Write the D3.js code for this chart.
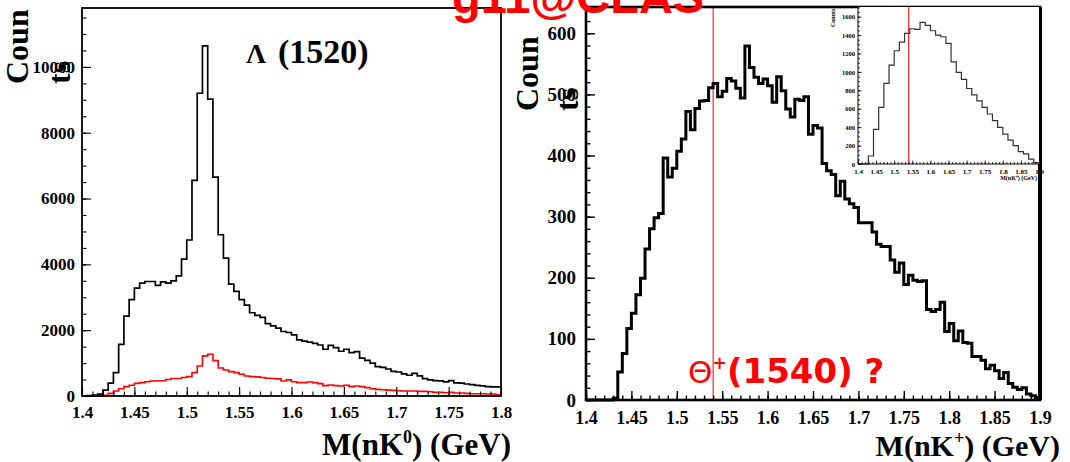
<!DOCTYPE html>
<html>
<head>
<meta charset="utf-8">
<script src="https://cdn.jsdelivr.net/npm/d3@7/dist/d3.min.js"></script>
<style>
  html, body { margin: 0; padding: 0; background: #fff; }
  svg { display: block; }
  .serif { font-family: "Liberation Serif", "Times New Roman", serif; font-weight: bold; }
</style>
</head>
<body>
<svg id="chart" width="1070" height="462"></svg>
<script>
// ---------------- DATA ----------------
// Left panel: M(nK0), 80 bins of 5 MeV from 1.40 to 1.80 GeV
const leftBinStart = 1.40;
const leftBinWidth = 0.005;
const lambdaAll = [0, 10, 30, 60, 180, 390, 710, 1570, 2430, 2930,
  3280, 3430, 3480, 3480, 3360, 3470, 3430, 3500, 3650, 4160,
  4740, 6550, 9200, 10640, 9020, 6650, 4900, 4190, 3400, 3180,
  2930, 2760, 2530, 2450, 2390, 2200, 2130, 2060, 1960, 1930,
  1860, 1705, 1665, 1635, 1600, 1550, 1420, 1540, 1470, 1360,
  1420, 1320, 1350, 1150, 1080, 1000, 890, 870, 820, 750,
  730, 670, 630, 690, 610, 530, 490, 470, 460, 430,
  470, 400, 390, 365, 345, 325, 305, 285, 275, 275];
const lambdaRed = [0, 0, 0, 0, 20, 80, 150, 220, 285, 325,
  385, 405, 435, 455, 465, 465, 500, 530, 530, 560,
  590, 710, 910, 1220, 1270, 1075, 850, 790, 740, 710,
  660, 610, 590, 580, 560, 540, 530, 520, 455, 490,
  435, 405, 405, 425, 405, 375, 315, 335, 315, 305,
  325, 285, 305, 285, 255, 220, 200, 190, 180, 170,
  160, 150, 150, 150, 140, 140, 130, 110, 110, 100,
  110, 90, 90, 80, 70, 70, 70, 60, 60, 40];
const leftXTicks = ["1.4", "1.45", "1.5", "1.55", "1.6", "1.65", "1.7", "1.75", "1.8"];
const leftYTicks = [0, 2000, 4000, 6000, 8000, 10000];

// Right panel: M(nK+), 100 bins of 5 MeV from 1.40 to 1.90 GeV
const rightBinStart = 1.40;
const rightBinWidth = 0.005;
const thetaCounts = [0, 0, 0, 0, 0, 0, 3, 46, 76, 117,
  142, 172, 199, 247, 280, 298, 305, 396, 365, 379,
  407, 427, 472, 442, 477, 489, 490, 511, 518, 496,
  505, 526, 522, 510, 494, 579, 544, 528, 518, 525,
  514, 487, 529, 506, 476, 463, 492, 490, 496, 435,
  449, 445, 387, 375, 369, 334, 358, 329, 321, 315,
  290, 290, 290, 275, 255, 251, 251, 229, 209, 224,
  189, 204, 196, 194, 195, 148, 145, 148, 160, 112,
  125, 97, 113, 94, 93, 71, 71, 65, 51, 57,
  48, 35, 45, 27, 21, 17, 20, 10, 7, 4];
const rightXTicks = ["1.4", "1.45", "1.5", "1.55", "1.6", "1.65", "1.7", "1.75", "1.8", "1.85", "1.9"];
const rightYTicks = [0, 100, 200, 300, 400, 500, 600];
const thetaMass = 1.54;

// Inset: 35 bins from 1.40 to 1.90 GeV
const insetBinStart = 1.40;
const insetBinCount = 35;
const insetCounts = [0, 0, 87, 376, 615, 875, 1074, 1230, 1324, 1418,
  1469, 1462, 1538, 1505, 1447, 1400, 1382, 1309, 1110, 995,
  920, 820, 750, 685, 615, 543, 470, 398, 325, 260,
  199, 134, 109, 54, 14];
const insetXTicks = ["1.4", "1.45", "1.5", "1.55", "1.6", "1.65", "1.7", "1.75", "1.8", "1.85", "1.9"];
const insetYTicks = [0, 200, 400, 600, 800, 1000, 1200, 1400, 1600];

// ---------------- DRAW ----------------
const svg = d3.select("#chart");
svg.append("rect").attr("width", 1070).attr("height", 462).attr("fill", "#fff");

function stepPoints(start, width, values) {
  const pts = [[start, 0]];
  values.forEach((v, i) => pts.push([start + i * width, v]));
  pts.push([start + values.length * width, values[values.length - 1]]);
  return pts;
}

function drawAxes(g, x, y, opt) {
  const [x0, x1] = x.range();
  const [y0, y1] = y.range();
  g.append("g").attr("transform", `translate(0,${y0})`)
    .call(d3.axisBottom(x).tickValues(opt.xMinor).tickSize(-opt.minorLen).tickFormat(""))
    .call(a => a.select(".domain").remove())
    .call(a => a.selectAll("line").attr("stroke-width", opt.tickW));
  g.append("g").attr("transform", `translate(0,${y0})`)
    .call(d3.axisBottom(x).tickValues(opt.xMajor.map(Number)).tickSize(-opt.majorLen)
      .tickPadding(opt.xPad).tickFormat((d, i) => opt.xMajor[i]))
    .call(a => a.select(".domain").remove())
    .call(a => a.selectAll("line").attr("stroke-width", opt.tickW))
    .call(a => a.selectAll("text").attr("font-size", opt.fontX).attr("fill", "#000"));
  g.append("g").attr("transform", `translate(${x0},0)`)
    .call(d3.axisLeft(y).tickValues(opt.yMinor).tickSize(-opt.minorLen).tickFormat(""))
    .call(a => a.select(".domain").remove())
    .call(a => a.selectAll("line").attr("stroke-width", opt.tickW));
  g.append("g").attr("transform", `translate(${x0},0)`)
    .call(d3.axisLeft(y).tickValues(opt.yMajor).tickSize(-opt.majorLen).tickPadding(opt.yPad)
      .tickFormat(d => String(d)))
    .call(a => a.select(".domain").remove())
    .call(a => a.selectAll("line").attr("stroke-width", opt.tickW))
    .call(a => a.selectAll("text").attr("font-size", opt.fontY).attr("fill", "#000"));
  g.selectAll(".tick text").attr("font-family", null)
    .style("font-family", '"Liberation Serif", serif').style("font-weight", "bold");
}

// ---- Left panel ----
const xL = d3.scaleLinear().domain([1.4, 1.8]).range([82, 501]);
const yL = d3.scaleLinear().domain([0, 11790]).range([396, 8]);
const gL = svg.append("g");
const lineL = d3.line().x(d => xL(d[0])).y(d => yL(d[1])).curve(d3.curveStepAfter);
gL.append("path").attr("d", lineL(stepPoints(leftBinStart, leftBinWidth, lambdaRed)))
  .attr("fill", "none").attr("stroke", "#ff0000").attr("stroke-width", 1.6);
gL.append("path").attr("d", lineL(stepPoints(leftBinStart, leftBinWidth, lambdaAll)))
  .attr("fill", "none").attr("stroke", "#000").attr("stroke-width", 1.7);
drawAxes(gL, xL, yL, {
  xMinor: d3.range(0, 41).map(i => 1.4 + i * 0.01),
  xMajor: leftXTicks,
  yMinor: d3.range(0, 24).map(i => i * 500),
  yMajor: leftYTicks,
  minorLen: 4.5, majorLen: 9, tickW: 1.1,
  xPad: 10, yPad: 7, fontX: 17, fontY: 17
});
gL.append("rect").attr("x", 82).attr("y", 8).attr("width", 419).attr("height", 388)
  .attr("fill", "none").attr("stroke", "#000").attr("stroke-width", 1.8);

gL.append("text").attr("class", "serif").attr("font-size", 32)
  .attr("transform", "translate(28,84) rotate(-90)").text("Coun");
gL.append("text").attr("class", "serif").attr("font-size", 32)
  .attr("transform", "translate(70,84) rotate(-90)").text("ts");
const tL = gL.append("text").attr("class", "serif").attr("font-size", 31)
  .attr("x", 511).attr("y", 455).attr("text-anchor", "end");
tL.append("tspan").text("M(nK");
tL.append("tspan").attr("font-size", 18).attr("dy", -12).text("0");
tL.append("tspan").attr("dy", 12).text(") (GeV)");
const lam = gL.append("text").attr("class", "serif").attr("y", 63);
lam.append("tspan").attr("x", 246).attr("font-size", 28).text("Λ");
lam.append("tspan").attr("x", 278).attr("font-size", 34).text("(1520)");

// ---- Right panel ----
const xR = d3.scaleLinear().domain([1.4, 1.9]).range([586, 1040]);
const yR = d3.scaleLinear().domain([0, 643]).range([400, 7]);
const gR = svg.append("g");
const lineR = d3.line().x(d => xR(d[0])).y(d => yR(d[1])).curve(d3.curveStepAfter);
gR.append("line").attr("x1", xR(thetaMass)).attr("x2", xR(thetaMass))
  .attr("y1", yR(0)).attr("y2", yR(643)).attr("stroke", "#ff0000").attr("stroke-width", 1);
gR.append("path").attr("d", lineR(stepPoints(rightBinStart, rightBinWidth, thetaCounts)))
  .attr("fill", "none").attr("stroke", "#000").attr("stroke-width", 3);
drawAxes(gR, xR, yR, {
  xMinor: d3.range(0, 51).map(i => 1.4 + i * 0.01),
  xMajor: rightXTicks,
  yMinor: d3.range(0, 33).map(i => i * 20),
  yMajor: rightYTicks,
  minorLen: 4.5, majorLen: 9, tickW: 1.4,
  xPad: 11, yPad: 10, fontX: 18, fontY: 19
});

// Inset
const xI = d3.scaleLinear().domain([1.4, 1.9]).range([858, 1039]);
const yI = d3.scaleLinear().domain([0, 1705]).range([164, 7]);
const gI = svg.append("g");
gI.append("rect").attr("x", 858).attr("y", 7).attr("width", 181).attr("height", 157).attr("fill", "#fff");
const lineI = d3.line().x(d => xI(d[0])).y(d => yI(d[1])).curve(d3.curveStepAfter);
gI.append("line").attr("x1", xI(thetaMass)).attr("x2", xI(thetaMass))
  .attr("y1", yI(0)).attr("y2", yI(1705)).attr("stroke", "#ff0000").attr("stroke-width", 1);
gI.append("path").attr("d", lineI(stepPoints(insetBinStart, 0.5 / insetBinCount, insetCounts)))
  .attr("fill", "none").attr("stroke", "#333").attr("stroke-width", 1.2);
drawAxes(gI, xI, yI, {
  xMinor: d3.range(0, 51).map(i => 1.4 + i * 0.01),
  xMajor: insetXTicks,
  yMinor: d3.range(0, 35).map(i => i * 50),
  yMajor: insetYTicks,
  minorLen: 2, majorLen: 3.5, tickW: 0.8,
  xPad: 5, yPad: 3, fontX: 7, fontY: 6.5
});
gI.append("line").attr("x1", 858).attr("x2", 858).attr("y1", 7).attr("y2", 164).attr("stroke", "#000").attr("stroke-width", 1);
gI.append("line").attr("x1", 858).attr("x2", 1039).attr("y1", 164).attr("y2", 164).attr("stroke", "#000").attr("stroke-width", 1);
gI.append("text").attr("class", "serif").attr("font-size", 6)
  .attr("transform", "translate(835,27) rotate(-90)").text("Counts");
gI.append("text").attr("class", "serif").attr("font-size", 6)
  .attr("x", 1037).attr("y", 180).attr("text-anchor", "end").text("M(nK⁺) (GeV)");

gR.append("rect").attr("x", 586).attr("y", 7).attr("width", 454).attr("height", 393)
  .attr("fill", "none").attr("stroke", "#000").attr("stroke-width", 2.6);
gR.append("line").attr("x1", 1040).attr("x2", 1040).attr("y1", 7).attr("y2", 400)
  .attr("stroke", "#000").attr("stroke-width", 4);

gR.append("text").attr("class", "serif").attr("font-size", 32)
  .attr("transform", "translate(538,111) rotate(-90)").text("Coun");
gR.append("text").attr("class", "serif").attr("font-size", 32)
  .attr("transform", "translate(578,111) rotate(-90)").text("ts");
const tR = gR.append("text").attr("class", "serif").attr("font-size", 30)
  .attr("x", 1060).attr("y", 455.5).attr("text-anchor", "end");
tR.append("tspan").text("M(nK");
tR.append("tspan").attr("font-size", 18).attr("dy", -12).text("+");
tR.append("tspan").attr("dy", 12).text(") (GeV)");

const th = gR.append("text").attr("y", 383).attr("fill", "#ff0000")
  .style("font-family", '"DejaVu Sans", sans-serif');
th.append("tspan").attr("x", 688).attr("font-size", 31).text("Θ");
th.append("tspan").attr("font-size", 17).attr("font-weight", "bold").attr("dy", -14).text("+");
th.append("tspan").attr("x", 727).attr("dy", 14).attr("font-size", 34).attr("font-weight", "bold").text("(1540) ?");

// Title (clipped at the top edge, as in the original figure)
svg.append("text").attr("x", 452).attr("y", 13).attr("fill", "#ff0000")
  .attr("font-size", 47).attr("font-weight", "bold")
  .style("font-family", '"Liberation Sans", Arial, sans-serif').text("g11@CLAS");
</script>
</body>
</html>
